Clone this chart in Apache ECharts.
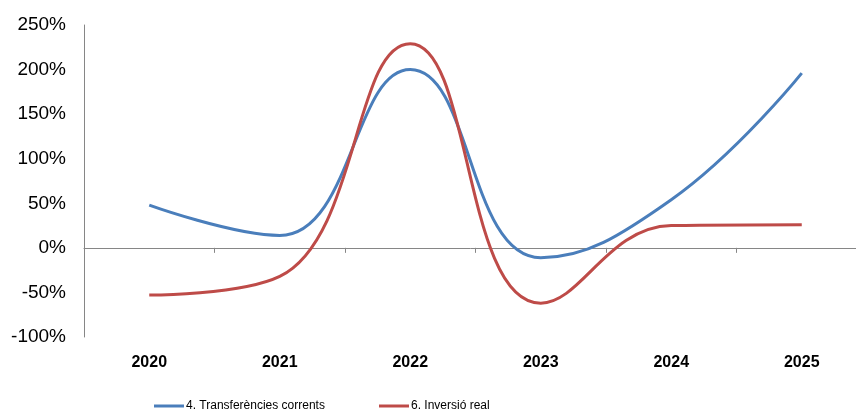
<!DOCTYPE html>
<html>
<head>
<meta charset="utf-8">
<script src="https://cdn.jsdelivr.net/npm/echarts@6/dist/echarts.min.js"></script>
<style>html,body{margin:0;padding:0;background:#fff}#c{width:856px;height:412px}</style>
</head>
<body>
<div id="c"></div>
<script>
const categories = ['2020', '2021', '2022', '2023', '2024', '2025'];
const transferencies = [48, 14, 200, -11, 54, 196];
const inversio = [-53, -32, 229, -62, 25, 26];
const seriesNames = ['4. Transferències corrents', '6. Inversió real'];
const yTicks = { min: -100, max: 250, interval: 50 };

const chart = echarts.init(document.getElementById('c'));
const sans = '"Liberation Sans", Arial, sans-serif';
const legendCommon = {
  top: 400, itemWidth: 30, itemHeight: 3, icon: 'rect', itemGap: 0, padding: 0,
  textStyle: { fontFamily: sans, fontSize: 12, color: '#000', padding: [0, 0, 0, -3] }
};
chart.setOption({
  animation: false,
  grid: { left: 84, top: 25, width: 783, bottom: 75, outerBoundsMode: 'none' },
  legend: [
    Object.assign({}, legendCommon, { left: 154, data: [seriesNames[0]] }),
    Object.assign({}, legendCommon, { left: 379, data: [seriesNames[1]] })
  ],
  xAxis: [{
    type: 'category', data: categories, boundaryGap: true,
    axisLine: { onZero: true, lineStyle: { color: '#868686', width: 1 } },
    axisTick: { show: true, length: 5, lineStyle: { color: '#868686' } },
    axisLabel: { show: false }
  }, {
    type: 'category', data: categories, boundaryGap: true, position: 'bottom',
    axisLine: { show: false, onZero: false }, axisTick: { show: false },
    axisLabel: { margin: 18, fontFamily: sans, fontSize: 16, fontWeight: 'bold', color: '#000' }
  }],
  yAxis: {
    type: 'value', min: yTicks.min, max: yTicks.max, interval: yTicks.interval,
    axisLine: { show: true, lineStyle: { color: '#868686' } },
    axisTick: { show: false },
    splitLine: { show: false },
    axisLabel: { formatter: '{value}%', margin: 18, fontFamily: sans, fontSize: 19, color: '#000' }
  },
  series: [{
    name: seriesNames[0], type: 'line', data: transferencies, smooth: 0.45,
    symbol: 'none', lineStyle: { color: '#4A7EBB', width: 3 }, itemStyle: { color: '#4A7EBB' }
  }, {
    name: seriesNames[1], type: 'line', data: inversio, smooth: 0.45,
    symbol: 'none', lineStyle: { color: '#BE4B48', width: 3 }, itemStyle: { color: '#BE4B48' }
  }]
});
</script>
</body>
</html>
